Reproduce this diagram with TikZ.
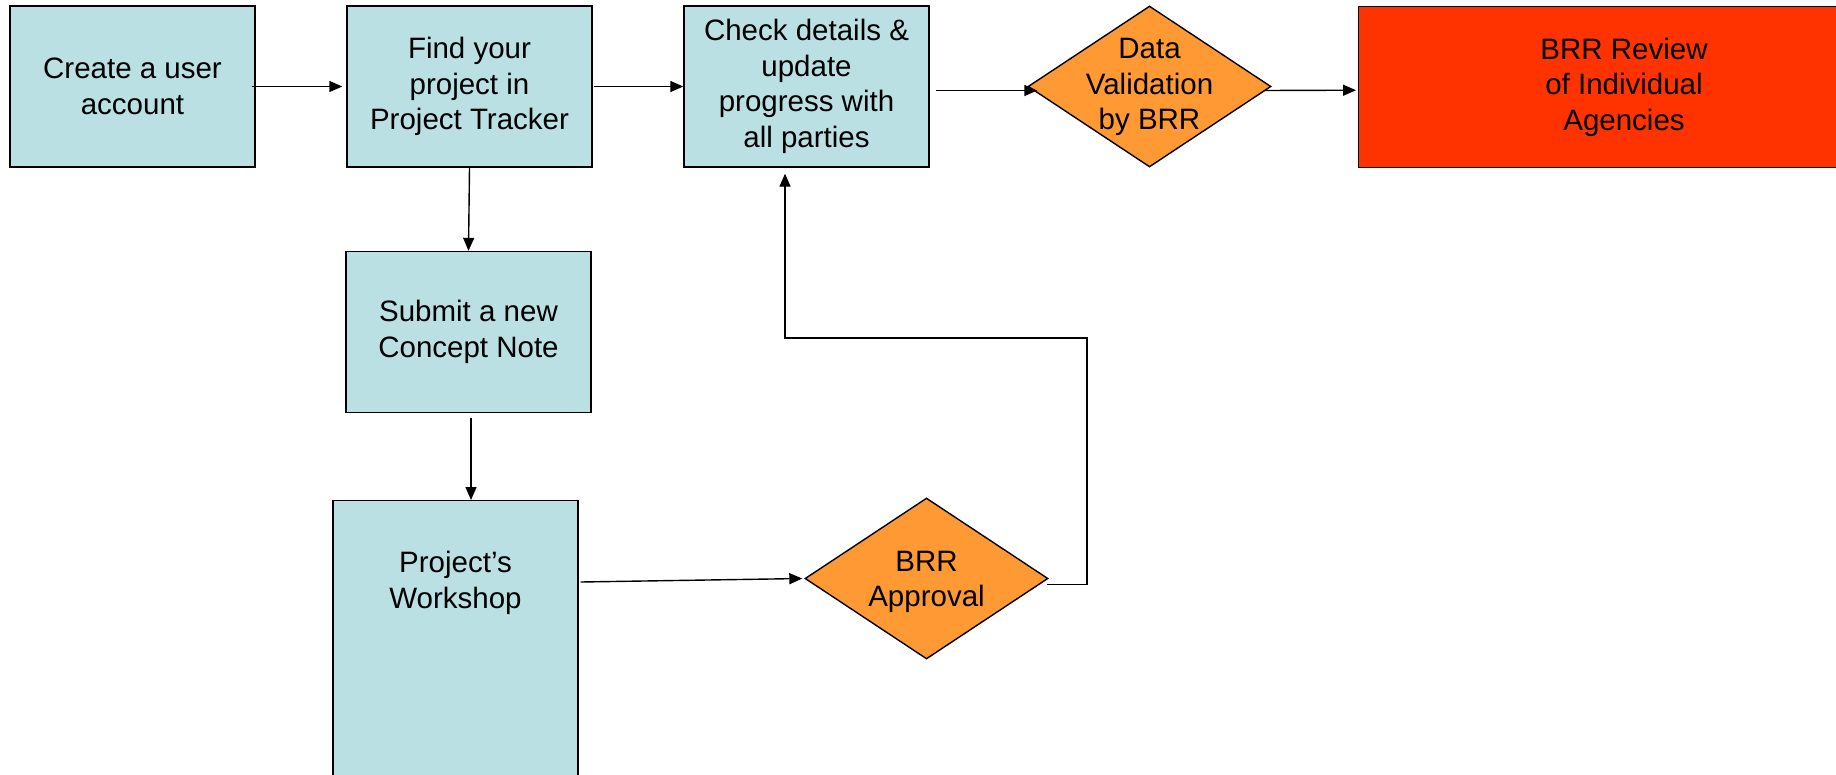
\documentclass[tikz,border=0pt]{standalone}
\usepackage{fontspec}
\setmainfont{Liberation Sans}
\usetikzlibrary{shapes.geometric,arrows.meta}
\definecolor{boxblue}{HTML}{BAE0E3}
\definecolor{dorange}{HTML}{FF9933}
\definecolor{rred}{HTML}{FF3300}
\tikzset{
  procbox/.style={draw, line width=1.4pt, fill=boxblue, minimum width=245pt, minimum height=161pt, inner sep=0pt, align=center},
  decbox/.style={diamond, draw, line width=1.4pt, fill=dorange, minimum width=243pt, minimum height=161pt, inner sep=0pt},
  lbl/.style={align=center, font=\fontsize{29.5}{35.5}\selectfont},
  arr/.style={line width=1.4pt, -{Triangle[length=13pt,width=11pt]}}
}
\begin{document}
\begin{tikzpicture}[x=1pt,y=-1pt]
\useasboundingbox (0,0) rectangle (1836,774);
\clip (0,0) rectangle (1836,774);
\fill[white] (0,0) rectangle (1836,774);
% process boxes
\node[procbox, lbl] (create) at (132.5,86.5) {Create a user\\account};
\node[procbox, lbl] (find) at (469.5,86.5) {Find your\\project in\\Project Tracker};
\node[procbox, lbl] (check) at (806.5,86.5) {Check details \&\\update\\progress with\\all parties};
\node[procbox, lbl] (submit) at (468.5,332) {Submit a new\\Concept Note};
\node[procbox, minimum height=290pt, anchor=north] (workshop) at (455.5,500) {};
\node[lbl] (workshoptxt) at (455.5,583) {Project’s\\Workshop};
\node[procbox, fill=rred, minimum width=532pt, anchor=north west] (review) at (1358,6) {};
\node[lbl] (reviewtxt) at (1624,87) {BRR Review\\of Individual\\Agencies};
% decisions
\node[decbox] (dv) at (1149.5,86.5) {};
\node[lbl] (dvtxt) at (1149.5,87) {Data\\Validation\\by BRR};
\node[decbox] (appr) at (926.5,578.5) {};
\node[lbl] (apprtxt) at (926.5,582) {BRR\\Approval};
% connectors
\draw[arr] ([xshift=-4pt]create.east) -- ([xshift=-4pt]find.west);
\draw[arr] ([xshift=1pt]find.east) -- (check.west);
\draw[arr] ([xshift=6pt,yshift=-4pt]check.east) -- ([xshift=10pt,yshift=-4pt]dv.west);
\draw[arr] ([xshift=-8pt,yshift=-4pt]dv.east) -- ([xshift=-2pt,yshift=-3pt]review.west);
\draw[arr] (find.south) -- (submit.north);
\draw[arr] ([xshift=2.5pt,yshift=-5pt]submit.south) -- ([xshift=15.5pt]workshop.north);
\coordinate (wsout) at ([xshift=2pt,yshift=-82pt]workshop.north east);
\draw[arr] (wsout) -- ([xshift=-2pt]appr.west);
\coordinate (loopc) at (1087,338);
\coordinate (ret) at ([xshift=-21.5pt,yshift=-6pt]check.south);
\draw[arr] ([xshift=-2pt,yshift=-6pt]appr.east) -| (loopc) -| (ret);
\end{tikzpicture}
\end{document}
